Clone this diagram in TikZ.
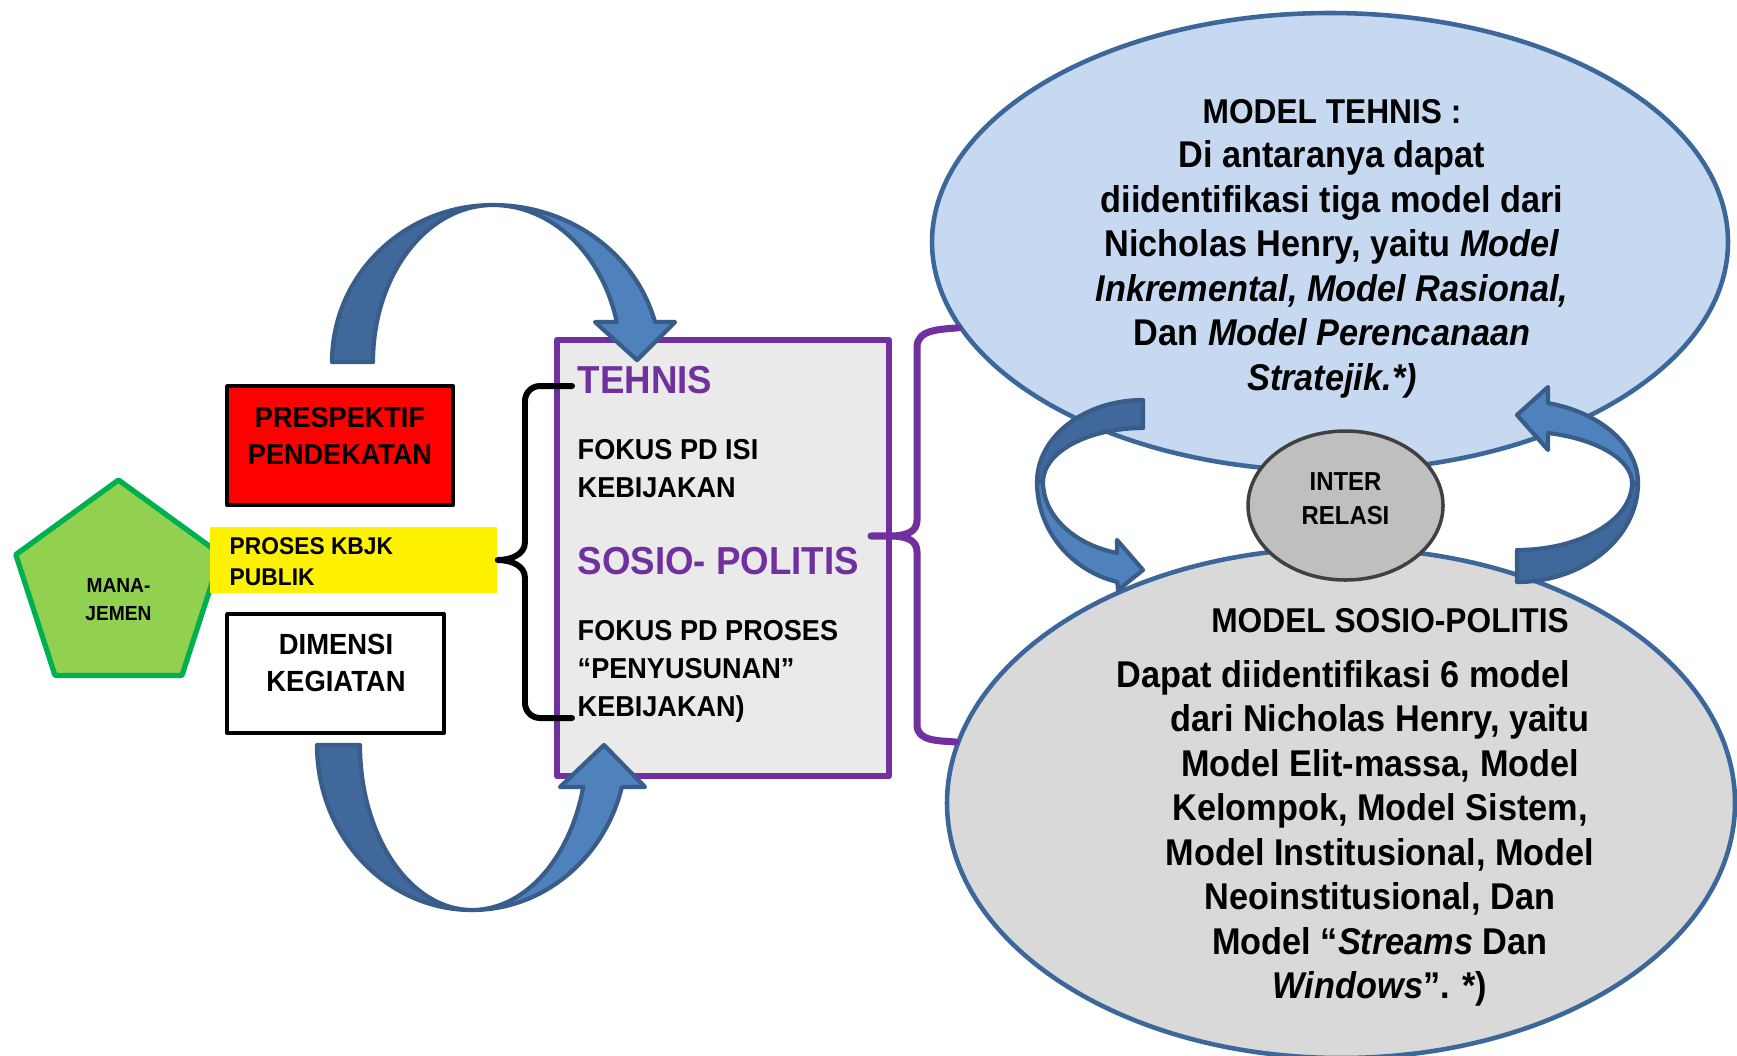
\documentclass[tikz,border=0pt]{standalone}
\usepackage{fontspec}
\setmainfont{Liberation Sans}[FakeStretch=0.94]
\newfontfamily\ellfont{Liberation Sans}[FakeStretch=0.92]
\usetikzlibrary{shapes.geometric}
\definecolor{kbjkpurple}{HTML}{7030A0}
\definecolor{boxgrey}{HTML}{EAEAEA}
\definecolor{skyfill}{HTML}{C6D9F1}
\definecolor{greyfill}{HTML}{D9D9D9}
\definecolor{interfill}{HTML}{BFBFBF}
\definecolor{ellline}{HTML}{3C679A}
\definecolor{arrowlight}{HTML}{4F81BD}
\definecolor{arrowdark}{HTML}{41689A}
\definecolor{arrowline}{HTML}{385D8A}
\definecolor{penfill}{HTML}{92D050}
\definecolor{penline}{HTML}{00B050}
\begin{document}
\begin{tikzpicture}[x=0.1mm, y=0.1mm, line join=round, line cap=round,
	txt/.style={inner sep=0pt, font=\bfseries},
	box/.style={draw=black, line width=1.1pt, inner sep=0pt},
	banddark/.style={fill=arrowdark, draw=arrowline, line width=1.2pt},
	bandlight/.style={fill=arrowlight, draw=arrowline, line width=1.2pt},
	kbrace/.style={draw=black, line width=1.7pt},
	pbrace/.style={draw=kbjkpurple, line width=2pt}]
	\useasboundingbox (0,0) rectangle (1737,-1055);
	\clip (0,0) rectangle (1737,-1055);
	\node[ellipse, draw=ellline, line width=1.3pt, fill=skyfill, inner sep=0pt, minimum width=79.6mm, minimum height=45.8mm] (mtehnis) at (1330,-242) {};
	\node[ellipse, draw=ellline, line width=1.3pt, fill=greyfill, inner sep=0pt, minimum width=78.8mm, minimum height=51mm] (msosio) at (1341,-803) {};
	\node[ellipse, draw=black!75, line width=1pt, fill=interfill, inner sep=0pt, minimum width=19.5mm, minimum height=14.9mm] (inter) at (1345.5,-505.5) {};
	\node[regular polygon, regular polygon sides=5, draw=penline, line width=1.5pt, fill=penfill, inner sep=0pt, minimum size=21.6mm] (mana) at (118.5,-588) {};
	\node[box, fill=red, minimum width=22.6mm, minimum height=11.9mm] (prespektif) at (340,-445.5) {};
	\node[fill=yellow, inner sep=0pt, minimum width=28.7mm, minimum height=6.6mm] (proses) at (353.5,-560) {};
	\node[box, fill=white, minimum width=21.7mm, minimum height=11.9mm] (dimensi) at (335.5,-673.5) {};
	\node[draw=kbjkpurple, line width=1.7pt, fill=boxgrey, inner sep=0pt, minimum width=33.2mm, minimum height=43.6mm] (fokus) at (723,-558) {};
	\path[banddark] (332,-362) arc[start angle=180, end angle=90, x radius=161, y radius=157] arc[start angle=90, end angle=180, x radius=120, y radius=157] -- cycle;
	\path[bandlight] (493,-205) arc[start angle=90, end angle=14.8, x radius=167.5, y radius=157] -- (675,-322) -- (637,-360) -- (595,-322) -- ([shift={(493,-362)}]14.8:128 and 157) arc[start angle=14.8, end angle=90, x radius=128, y radius=157] -- cycle;
	\path[banddark] (317,-745) arc[start angle=180, end angle=270, x radius=155, y radius=165] arc[start angle=270, end angle=180, x radius=112, y radius=165] -- cycle;
	\path[bandlight] (472,-910) arc[start angle=270, end angle=345.3, x radius=155, y radius=165] -- (645,-787) -- (604,-745) -- (560,-787) -- ([shift={(472,-745)}]345.3:115 and 165) arc[start angle=345.3, end angle=270, x radius=115, y radius=165] -- cycle;
	\path[banddark] (1143,-400) arc[start angle=90, end angle=180, x radius=106, y radius=82] -- (1043,-482) arc[start angle=180, end angle=90, x radius=100, y radius=54] -- cycle;
	\path[bandlight] (1037,-482) arc[start angle=180, end angle=256, x radius=106, y radius=103] -- (1118,-590) -- (1143,-570) -- (1117,-540) -- ([shift={(1143,-482)}]255:100 and 73.5) arc[start angle=255, end angle=180, x radius=100, y radius=73.5] -- cycle;
	\path[banddark] (1517,-582) arc[start angle=270, end angle=360, x radius=121, y radius=99] -- (1632,-483) arc[start angle=0, end angle=-90, x radius=115, y radius=67] -- cycle;
	\path[bandlight] (1638,-483) arc[start angle=0, end angle=75.2, x radius=121, y radius=82.7] -- (1548,-387) -- (1517,-415) -- (1548,-450) -- ([shift={(1517,-483)}]74.4:115 and 52) arc[start angle=74.4, end angle=0, x radius=115, y radius=52] -- cycle;
	\coordinate (bt) at (572,-386);
	\coordinate (bb) at (572,-718);
	\coordinate (ptip) at (871,-536);
	\draw[kbrace] (bt) -- (540,-386) to[out=180, in=90] (525,-401) -- (525,-542) to[out=-90, in=0] (proses.east) to[out=0, in=90] (525,-578) -- (525,-703) to[out=-90, in=180] (540,-718) -- (bb);
	\draw[pbrace] (mtehnis.193) to[out=185, in=90] (917,-347) -- (917,-520) to[out=-90, in=0] (ptip) to[out=0, in=90] (917,-552) -- (917,-725) to[out=-90, in=175] (msosio.171.5);
	\node[txt, anchor=base, align=center, font=\bfseries\fontsize{5.8}{8.2}\selectfont] (tmana) at (118.5,-620.8) {MANA-\\JEMEN};
	\node[txt, anchor=base, align=center, font=\bfseries\fontsize{8.2}{10.5}\selectfont] (tprespektif) at (340,-464.3) {PRESPEKTIF\\PENDEKATAN};
	\node[txt, anchor=base west, align=left, font=\bfseries\fontsize{6.9}{8.8}\selectfont] (tproses) at (229,-585.6) {PROSES KBJK\\PUBLIK};
	\node[txt, anchor=base, align=center, font=\bfseries\fontsize{8.3}{10.5}\selectfont] (tdimensi) at (336,-691.4) {DIMENSI\\KEGIATAN};
	\node[txt, anchor=base west, text=kbjkpurple, font=\bfseries\fontsize{11.1}{13}\selectfont] (ttehnis) at (577,-393) {TEHNIS};
	\node[txt, anchor=base west, align=left, font=\bfseries\fontsize{8.2}{10.8}\selectfont] (tisi) at (577,-497.5) {FOKUS PD ISI\\KEBIJAKAN};
	\node[txt, anchor=base west, text=kbjkpurple, font=\bfseries\fontsize{11.1}{13}\selectfont] (tsosio) at (577,-574) {SOSIO- POLITIS};
	\node[txt, anchor=base west, align=left, font=\bfseries\fontsize{8.2}{10.9}\selectfont] (tpenyusunan) at (577,-716.6) {FOKUS PD PROSES\\“PENYUSUNAN”\\KEBIJAKAN)};
	\node[txt, anchor=base, align=center, font=\ellfont\bfseries\fontsize{7.4}{9.9}\selectfont] (tinter) at (1345.5,-524.8) {INTER\\RELASI};
	\node[txt, anchor=base, align=center, font=\ellfont\bfseries\fontsize{10.6}{12.64}\selectfont] (tmtehnis) at (1332,-390) {{\fontsize{9.8}{12.64}\selectfont MODEL TEHNIS :}\\Di antaranya dapat\\diidentifikasi tiga model dari\\Nicholas Henry, yaitu \textit{Model}\\\textit{Inkremental, Model Rasional,}\\Dan \textit{Model Perencanaan}\\\textit{Stratejik.*)}};
	\node[txt, anchor=base, font=\ellfont\bfseries\fontsize{9.8}{12.64}\selectfont] (tmsosio) at (1390,-632.4) {MODEL SOSIO-POLITIS};
	\node[txt, anchor=base, align=center, font=\ellfont\bfseries\fontsize{10.6}{12.64}\selectfont] (tmodel) at (1380,-998.4) {Dapat diidentifikasi 6 model\hspace*{7.3mm}\\dari Nicholas Henry, yaitu\\Model Elit-massa, Model\\Kelompok, Model Sistem,\\Model Institusional, Model\\Neoinstitusional, Dan\\Model “\textit{Streams} Dan\\\textit{Windows}”. *)};
\end{tikzpicture}
\end{document}
